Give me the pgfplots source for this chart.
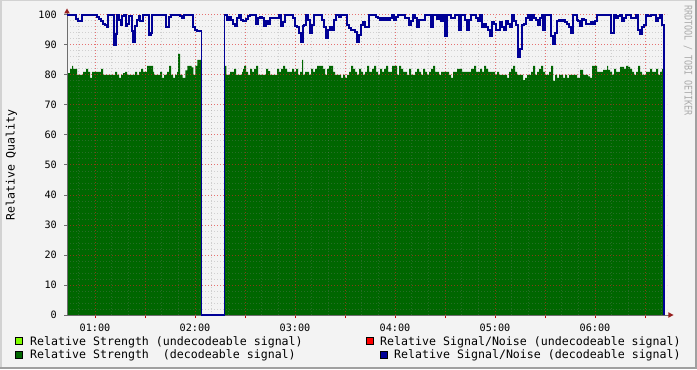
\documentclass[border=0pt]{standalone}
\usepackage{fontspec}
\setmainfont{DejaVu Sans Mono}
\setmonofont{DejaVu Sans Mono}
\usepackage{pgfplots}
\pgfplotsset{compat=1.18}
\usepackage{pgfplotstable}

\definecolor{bgc}{RGB}{243,243,243}
\definecolor{shadea}{RGB}{210,210,210}
\definecolor{shadeb}{RGB}{160,160,160}
\definecolor{strgreen}{RGB}{0,102,0}
\definecolor{snblue}{RGB}{0,0,150}
\definecolor{lgreen}{RGB}{128,255,0}
\definecolor{arrowred}{RGB}{150,30,30}
\definecolor{axgray}{RGB}{110,110,110}
\definecolor{wmgray}{RGB}{170,170,170}

% time axis: minutes after midnight = 0.6*px + 3
\pgfplotstableread{
px v
67 80.6
70 82
72 83
73 82
77 80
83 81
86 82
88 81
90 79
92 81
101 82
103 80
115 81
117 80
119 79
121 80
123 80.6
125 81
127 80
135 81
137 80
139 81
141 82
143 81
147 83
153 81
154 80
160 81
162 79
164 80
167 81
169 83
171 80
173 79
175 80
177 81
178 87
180 80
182.7 79
185.3 81.5
187.3 83
191.7 82.5
193.3 80
195.3 83
197.3 85
201.3 85
}\strengthA

\pgfplotstableread{
px v
224.3 83
226.3 80
230 81
234 82
236 80
242 81
243 82
244 83
246 81
248 80
250 82
252 81
254 82
256 83
258 80
266 82
268 81.3
270 80
277 82
279 81
281 82
283 83
285 82
287 81
292 82
294 81
296 82
298 80
300 81
302 85
303 80
305 81
309 80
311 82
313 81
315 82
317 83
323 82
325 80
327 82
329 83
333 81
335 80
341 79
343 80
345 79
347 80
349 81
351 83
353 82
355 81
357 80
359 82
361 81
363 80
365 81
367 83
369 81
372 82
374 83
376 81
378 80
380 82
382 81
384 82
386 83
388 81
392 83
397 80
399 83
401 82
403 81
407 80
409 82
411 80
415 81
417 82
419 81
421 80
423 82
425 81
427 80
429 81
431 82
433 83
435 81
439 80
441 81
449 80
451 79
453 81
457 82
462 81
471 82
474 83
476 81
480 82
482 81
484 83
486 82
488 81
495 80
497 81
499 80
507 79
509 81
511 82
513 83
515 81
517 80
523 78.3
525 79
527 80
531 81
533 83
535 80
537 81
539 82
541 83
543 81
545 80
549 81
551 83
553 78
555 80
557 79
559 80
563 79
565 80
567 79
569 80
577 79
580 81.7
583 80
588 79.5
590 79
592 83
597 81
603 81.7
607 83
608 81.7
610 81
612 80
614 82
616 81
620 82.7
624 82
626 83
628 82.7
630 82
632 81
634 80
636 81
638 83
640 81
642 80
646 81
650 82
652 81
656 82
658 80
660 81
662 82
664 82
}\strengthB

\pgfplotstableread{
px v
67 100
76 98.7
78 98
82 100
97 99.3
99 98.7
101 98
103 97
105 96.7
107 96
108 100
114 90
116 93.7
117 100
119 98.3
121 96.7
122 99.7
124 100
126 96.3
127 97
129 99.7
132 94.7
133 91
135 96.3
137 98.3
139 99.7
140 98
143 100
149 93.3
151 94
152 100
166 96
169 99.3
171 100
180 99.7
182 99
184 100
193 96
195 95
197 94.7
201.3 0
224.3 100
227 98.3
229 99.3
231 98.3
233 97
235 96.3
237 99
239 100
241 98.3
243 98
246 98.7
248 99.7
250 100
256 97
258 99
260 99.3
262 99
264 96.3
266 98
268 97
270 99
279 100
281 96.3
283 97.7
285 100
293 99
295 96.3
297 96
299 94
301 91
303 96.3
304 96.7
306 100
308 98.3
310 94
312 96.7
314 100
322 98.3
324 96
326 92.3
328 95
330 96
332 95
334 98.3
336 100
339 99.3
341 100
347 96.7
349 95.7
351 95
355 94.3
357 91
359 93.3
361 96.7
363 97.7
365 96
369 100
376 99.4
378 99
380 98.3
382 99
384 98.3
386 99
388 98.3
390 99
392 100
394 98.3
396 99.4
398 100
405 99
409 96.7
411 98
413 100
415 99
417 96
419 98.3
425 100
431 96
433 100
437 98.7
439 100
441 98
443 100
445 93
447 100
451 99
455 100
459 95
461 100
465 98.3
467 95
469 98.3
471 100
476 99
478 98
480 100
482 96
484 97
486 96
488 95
490 93
492 97.7
494 97
496 95
500 97.7
502 96
504 95
506 98
508 97
510 96
512 100
514 98
516 96.7
518 86
520 88.7
522 96.7
524 97
526 99
528 100
530 98.3
532 100
534 99
536 98.3
538 96.7
540 99
542 100
543 95
545 100
551 93
553 90.3
555 94
557 98
559 98.3
561 98
563 98.3
565 97.7
567 97
569 96
571 94
573 100
577 98.3
578 98
580 96.3
582 98.7
584 98.3
586 97
591 97.7
593 97
595 98
597 100
611 94
614 100
616 99
618 99.7
620 100
622 98
624 99
626 100
631 99
636 100
638 95
640 93.7
642 96
644 96.7
646 100
648 99.7
651 100
656 98
658 99
660 100
662 96.7
664 0
}\snr

\begin{document}
\begin{tikzpicture}[x=1bp,y=1bp]
\fill[bgc] (0,0) rectangle (697,369);
\fill[shadea] (0,0) rectangle (1.5,369);
\fill[shadea] (0,367.5) rectangle (697,369);
\fill[shadeb] (695,0) rectangle (697,369);
\fill[shadeb] (0,0) rectangle (697,2);

\begin{axis}[
  at={(67bp,54bp)}, anchor=south west,
  scale only axis, width=600bp, height=300bp,
  xmin=43.2, xmax=403.2, ymin=0, ymax=100,
  set layers, axis on top, clip=false,
  axis lines=left,
  axis line style={-, draw=axgray, line width=1bp},
  axis background/.style={fill=white},
  xtick={60,90,...,390},
  xticklabels={01:00,,02:00,,03:00,,04:00,,05:00,,06:00,},
  minor xtick={50,60,...,400},
  ytick={0,10,...,100},
  minor ytick={0,2,...,100},
  grid=both,
  major grid style={draw=red, dash pattern=on 1bp off 2bp, line width=1bp, opacity=0.45},
  minor grid style={draw=gray, dash pattern=on 1bp off 2bp, line width=1bp, opacity=0.3},
  tick align=outside,
  major tick length=3bp, minor tick length=0bp,
  xtick style={draw=red!80!black, line width=1bp},
  ytick style={draw=axgray, line width=1bp},
  /pgf/number format/assume math mode=true,
  tick label style={font=\fontsize{10.2}{12}\selectfont, inner sep=0pt},
  xticklabel style={anchor=base, yshift=-13.6bp},
  yticklabel style={anchor=east, xshift=-7bp},
]
\addplot[const plot, fill=strgreen, draw=none] table[x expr=0.6*\thisrow{px}+3, y=v] {\strengthA} \closedcycle;
\addplot[const plot, fill=strgreen, draw=none] table[x expr=0.6*\thisrow{px}+3, y=v] {\strengthB} \closedcycle;
\addplot[const plot, draw=snblue, line width=1.5bp, on layer=axis foreground] table[x expr=0.6*\thisrow{px}+3, y=v] {\snr};
\end{axis}

% axis extensions and arrow heads
\draw[axgray, line width=1bp] (67,354) -- (67,357);
\fill[arrowred] (64.2,355.5) -- (69.8,355.5) -- (67,360.5) -- cycle;
\draw[axgray, line width=1bp] (667,54) -- (669,54);
\fill[arrowred] (668.3,51.2) -- (668.3,56.8) -- (673.5,54) -- cycle;

% y label
\node[rotate=90, anchor=base, inner sep=0pt, font=\fontsize{11.6}{14}\selectfont] at (14.5,204) {Relative Quality};

% watermark
\node[rotate=-90, xscale=0.8, anchor=base west, inner sep=0pt, text=wmgray, font=\fontsize{10.5}{12}\selectfont] at (684.5,364) {RRDTOOL / TOBI OETIKER};

% legend
\begin{scope}[font=\fontsize{11.65}{14}\selectfont]
\filldraw[fill=lgreen, draw=black, line width=0.8bp] (15.5,24.5) rectangle (22.5,31.5);
\node[anchor=base west, inner sep=0pt] at (30,24) {Relative Strength (undecodeable signal)};
\filldraw[fill=strgreen, draw=black, line width=0.8bp] (15.5,10.5) rectangle (22.5,17.5);
\node[anchor=base west, inner sep=0pt] at (30,10.3) {Relative Strength~~(decodeable signal)};
\filldraw[fill=red, draw=black, line width=0.8bp] (366.5,24.5) rectangle (373.5,31.5);
\node[anchor=base west, inner sep=0pt] at (380,24) {Relative Signal/Noise (undecodeable signal)};
\filldraw[fill=snblue, draw=black, line width=0.8bp] (380.5,10.5) rectangle (387.5,17.5);
\node[anchor=base west, inner sep=0pt] at (394,10.3) {Relative Signal/Noise (decodeable signal)};
\end{scope}
\end{tikzpicture}
\end{document}
